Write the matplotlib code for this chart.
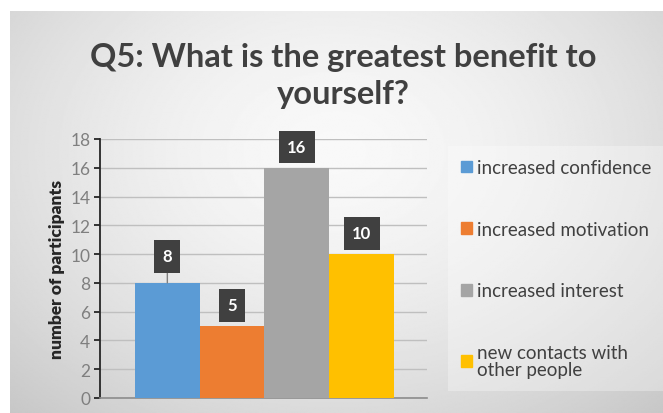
import numpy as np
import matplotlib
matplotlib.use("Agg")
import matplotlib.pyplot as plt
import matplotlib.patches as mpatches

plt.rcParams["font.family"] = ["Lato", "DejaVu Sans"]

# survey answers, Q5
CATEGORIES = ["increased confidence", "increased motivation",
              "increased interest", "new contacts with\nother people"]
COUNTS = [8, 5, 16, 10]
COLORS = ["#5b9bd5", "#ed7d31", "#a5a5a5", "#ffc000"]
YTICKS = [0, 2, 4, 6, 8, 10, 12, 14, 16, 18]

TEXT_DARK = "#404040"
TICK_GREY = "#7f7f7f"

W, H = 663, 414
fig = plt.figure(figsize=(W / 100, H / 100), dpi=100)
fig.patch.set_facecolor("white")

# grey radial-gradient panel behind everything
bg = fig.add_axes([10 / W, 0, 1 - 10 / W, 1 - 12 / H], zorder=-10)
yy, xx = np.mgrid[0:1:300j, 0:1:500j]
r = np.sqrt(((xx - 0.5) / 0.75) ** 2 + ((yy - 0.35) / 0.9) ** 2)
shade = np.clip(0.975 - 0.2 * r ** 1.6, 0.78, 1.0)
bg.imshow(shade, cmap="gray", vmin=0, vmax=1, aspect="auto",
          extent=[0, 1, 1, 0], interpolation="bilinear")
bg.set_axis_off()

ax = fig.add_axes([100 / W, 1 - 399 / H, (427 - 100) / W, (399 - 140) / H])
ax.patch.set_alpha(0)

x = np.arange(len(COUNTS))
bars = ax.bar(x, COUNTS, width=1.0, color=COLORS, zorder=3)

ax.set_xlim(-1.04, 4.01)
ax.set_ylim(0, 18)
ax.set_yticks(YTICKS)
ax.set_xticks([])
ax.tick_params(axis="y", length=4, width=1.3, color="#262626",
               labelsize=12.5, labelcolor=TICK_GREY, pad=3)
ax.grid(True, axis="y", color="#bfbfbf", linewidth=1.0, zorder=0)
for s in ("top", "right"):
    ax.spines[s].set_visible(False)
ax.spines["left"].set_color("#262626")
ax.spines["left"].set_linewidth(1.3)
ax.spines["bottom"].set_color("#8c8c8c")
ax.spines["bottom"].set_linewidth(1.2)
ax.set_ylabel("number of participants", fontsize=12.5, fontweight="heavy",
              color="#262626", labelpad=4)

# value call-outs in dark boxes; the first one sits higher with a leader line
lifts = [19, 15, 15, 15]
for xi, v, lift in zip(x, COUNTS, lifts):
    ax.annotate(str(v), xy=(xi, v), xytext=(0, lift), textcoords="offset points",
                ha="center", va="center", fontsize=12, fontweight="bold",
                color="white", zorder=5,
                bbox=dict(boxstyle="square,pad=0.5", fc=TEXT_DARK, ec="none"),
                arrowprops=dict(arrowstyle="-", color="#7f7f7f", lw=1,
                                shrinkA=0, shrinkB=0) if lift > 15 else None)

fig.text(343 / W, 1 - 76 / H, "Q5: What is the greatest benefit to\nyourself?",
         ha="center", va="center", fontsize=23.5, fontweight="bold",
         color=TEXT_DARK, linespacing=1.3)

handles = [mpatches.Patch(color=c) for c in COLORS]
leg = fig.legend(handles, CATEGORIES, loc="upper left",
                 bbox_to_anchor=(448 / W, 1 - 147 / H), fontsize=13.5,
                 frameon=True, fancybox=False, labelspacing=2.38,
                 handlelength=0.6, handleheight=0.6, handletextpad=0.25,
                 borderpad=0.7, borderaxespad=0)
leg.get_frame().set_facecolor("white")
leg.get_frame().set_alpha(0.3)
leg.get_frame().set_edgecolor("none")
for t in leg.get_texts():
    t.set_color(TEXT_DARK)
    t.set_linespacing(1.0)

fig.savefig("out.png", dpi=100)
